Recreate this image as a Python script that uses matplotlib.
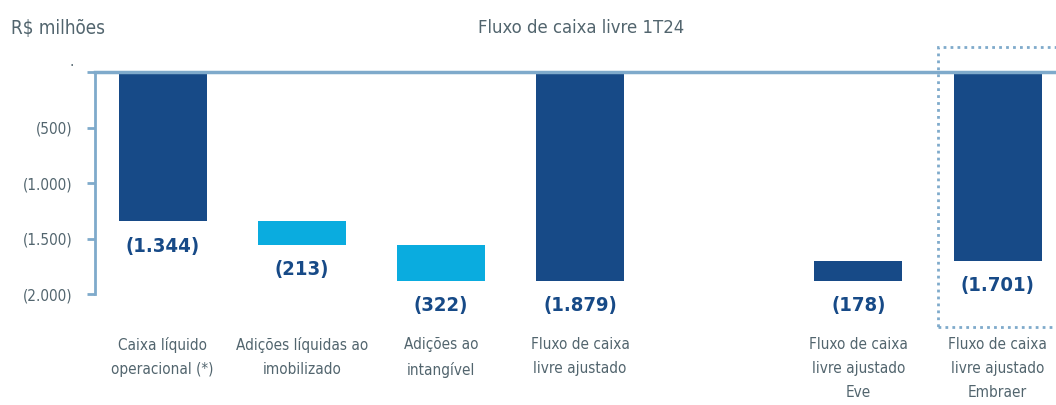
import matplotlib
matplotlib.use("Agg")
import matplotlib.pyplot as plt
from matplotlib.patches import Rectangle
from matplotlib.transforms import ScaledTranslation

plt.rcParams["font.family"] = ["Liberation Sans Narrow", "DejaVu Sans"]
plt.rcParams["font.stretch"] = "condensed"

# dados (R$ milhões)
categorias = ["Caixa líquido\noperacional (*)", "Adições líquidas ao\nimobilizado",
              "Adições ao\nintangível", "Fluxo de caixa\nlivre ajustado",
              "Fluxo de caixa\nlivre ajustado\nEve", "Fluxo de caixa\nlivre ajustado\nEmbraer"]
posicoes = [0, 1, 2, 3, 5, 6]
valores = [-1344, -213, -322, -1879, -178, -1701]
bases = [0, -1344, -1557, 0, -1701, 0]
rotulos = ["(1.344)", "(213)", "(322)", "(1.879)", "(178)", "(1.701)"]
tipo = ["total", "var", "var", "total", "total", "total"]
yticks = [0, -500, -1000, -1500, -2000]
ytick_labels = [".", "(500)", "(1.000)", "(1.500)", "(2.000)"]

ESCURO = "#174A87"
CLARO = "#0AACDF"
LINHA = "#7FAACB"
CINZA = "#52656E"

fig = plt.figure(figsize=(10.56, 4.05), dpi=100)
ax = fig.add_axes([0.09, 0.274, 0.91, 0.548])

cores = [ESCURO if t == "total" else CLARO for t in tipo]
ax.bar(posicoes, valores, bottom=bases, width=0.632, color=cores, zorder=3)

for p, v, b, r in zip(posicoes, valores, bases, rotulos):
    ax.annotate(r, (p, v + b), xytext=(0, -11), textcoords="offset points",
                ha="center", va="top", fontsize=14.5, fontweight="bold",
                color=ESCURO, annotation_clip=False)

ax.set_xlim(-0.486, 6.42)
ax.set_ylim(-2000, 0)
ax.set_yticks(yticks)
ax.set_yticklabels(ytick_labels)
ax.set_xticks([])
ax.tick_params(axis="y", colors=LINHA, labelcolor=CINZA, labelsize=11,
               length=6, width=2, pad=10)
zero_lbl = ax.get_yticklabels()[0]
zero_lbl.set_transform(zero_lbl.get_transform()
                       + ScaledTranslation(0.01, 0.12, fig.dpi_scale_trans))
for s in ["right", "bottom"]:
    ax.spines[s].set_visible(False)
ax.spines["left"].set_color(LINHA)
ax.spines["left"].set_linewidth(2)
ax.spines["top"].set_color(LINHA)
ax.spines["top"].set_linewidth(2.5)
ax.spines["top"].set_zorder(4)

for p, c in zip(posicoes, categorias):
    ax.text(p, -2390, c, ha="center", va="top", fontsize=11, color=CINZA,
            linespacing=1.75)

# caixa pontilhada em volta de Embraer
ax.add_patch(Rectangle((5.57, -2300), 1.5, 2530, fill=False, ls=(0, (1, 1.5)),
                       lw=2, ec=LINHA, clip_on=False, zorder=2))

fig.text(0.01, 0.93, "R$ milhões", fontsize=13.5, color=CINZA, va="center")
fig.text(0.55, 0.93, "Fluxo de caixa livre 1T24", fontsize=13.2, color=CINZA,
         va="center", ha="center")

fig.savefig("out.png")
